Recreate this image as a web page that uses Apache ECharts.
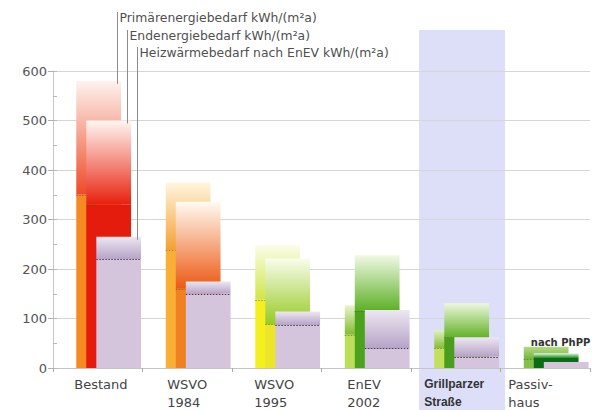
<!DOCTYPE html>
<html>
<head>
<meta charset="utf-8">
<script src="https://cdn.jsdelivr.net/npm/echarts@6/dist/echarts.min.js"></script>
<style>
  html, body { margin: 0; padding: 0; background: #ffffff; }
  #chart { width: 595px; height: 410px; }
</style>
</head>
<body>
<div id="chart"></div>
<script>
// Energy demand per building standard, kWh/(m²a)
const categories = ['Bestand', 'WSVO\n1984', 'WSVO\n1995', 'EnEV\n2002', 'Grillparzer\nStraße', 'Passiv-\nhaus'];
const seriesNames = ['Primärenergiebedarf kWh/(m²a)', 'Endenergiebedarf kWh/(m²a)', 'Heizwärmebedarf nach EnEV kWh/(m²a)'];
const noteText = 'nach PhPP';

// upper end of each range and its lower bound
const primaerTop  = [580, 375, 248, 127, 77, 43];
const primaerBase = [350, 238, 138, 67, 40, 18];
const endTop      = [500, 336, 221, 228, 131, 30];
const endBase     = [330, 160, 88, 115, 62, 20];
const heizTop     = [265, 175, 114, 117, 62, 12];
const heizBase    = [220, 150, 87, 40, 23, 12];

const yMin = 0, yMax = 600, yStep = 100;

// colour sets per standard: [faded top, colour at lower bound, solid fill below]
const primaerColors = [
  ['#fdf3ef', '#ee4a26', '#f58a22'],
  ['#fff6e0', '#f4a030', '#f7b035'],
  ['#fbfde8', '#cfe646', '#f5ef22'],
  ['#e8f4cc', '#82bc2e', '#bcde58'],
  ['#e2f0c4', '#84be34', '#c2e05c'],
  ['#b4da86', '#72b63a', '#82c04a']
];
const endColors = [
  ['#fff7f2', '#e8200e', '#e41c0e'],
  ['#fffbf2', '#ec5812', '#f08020'],
  ['#f9fdec', '#96ca22', '#ebe62a'],
  ['#f1f9e4', '#5cb024', '#4ca21c'],
  ['#eef8de', '#62b226', '#4a9e1c'],
  ['#eef8e6', '#148c1a', '#0a6c14']
];
const heizColors = categories.map(() => ['#ede7f2', '#b6a3c6', '#d5c5dc']);

const FONT = '"DejaVu Sans", sans-serif';
const legendY = [17, 35, 52];

function rangeBars(k, colors) {
  return function (params, api) {
    const i = api.value(0);
    const top = api.value(1);
    const base = api.value(2);
    const band = api.size([1, 0])[0];
    const p0 = api.coord([i, 0]);
    const pTop = api.coord([i, top]);
    const pBase = api.coord([i, base]);
    const w = band * 0.5;
    const step = band * 0.112;
    const x = p0[0] - band * 0.24 + k * step;
    const c = colors[i];
    const children = [
      {
        type: 'rect',
        shape: { x: x, y: pBase[1], width: w, height: p0[1] - pBase[1] },
        style: { fill: c[2] }
      },
      {
        type: 'rect',
        shape: { x: x, y: pTop[1], width: w, height: pBase[1] - pTop[1] },
        style: {
          fill: {
            type: 'linear', x: 0, y: 0, x2: 0, y2: 1,
            colorStops: [{ offset: 0, color: c[0] }, { offset: 1, color: c[1] }]
          }
        }
      }
    ];
    if (base < top) {
      // dotted lower bound: full width on the front bar, a short mark on the others
      const ly = Math.round(pBase[1]) + 0.5;
      const front = k === 2;
      children.push({
        type: 'line',
        shape: { x1: x, y1: ly, x2: front ? x + w : x + step, y2: ly },
        style: {
          stroke: front ? '#4a3a52' : '#5a4a40', lineWidth: 1,
          lineDash: [1.5, 1.5], opacity: front ? 1 : 0.55
        }
      });
    }
    if (i === 0) {
      // leader line and caption for this measure
      const lx = Math.round(x + w - 4) + 0.5;
      children.push({
        type: 'line',
        shape: { x1: lx, y1: legendY[k] - 5, x2: lx, y2: pTop[1] + 3 },
        style: { stroke: '#8c8c8c', lineWidth: 1 }
      });
      children.push({
        type: 'text',
        style: {
          x: lx + 2, y: legendY[k], text: seriesNames[k],
          fill: '#505050', fontSize: 12.4, fontFamily: FONT,
          align: 'left', verticalAlign: 'middle'
        }
      });
    }
    if (k === 1 && i === categories.length - 1) {
      children.push({
        type: 'text',
        style: {
          x: x - 3, y: pTop[1] - 11, text: noteText,
          fill: '#333333', fontSize: 10, fontWeight: 'bold', fontFamily: FONT,
          align: 'left', verticalAlign: 'middle'
        }
      });
    }
    return { type: 'group', children: children };
  };
}

function seriesData(tops, bases) {
  return categories.map((c, i) => [i, tops[i], bases[i]]);
}

// category label widths so the left-aligned lines sit where they belong
const labelWidths = [47, 40, 45, 38, 63, 74];
const rich = {};
labelWidths.forEach((w, i) => {
  rich['c' + i] = {
    width: w, align: 'left', fontSize: 13, fontFamily: FONT,
    lineHeight: 18, color: '#444444'
  };
});
rich.c4 = Object.assign({}, rich.c4, {
  fontFamily: '"Liberation Sans", Arial, sans-serif', fontWeight: 'bold', fontSize: 12, color: '#333333'
});

const chart = echarts.init(document.getElementById('chart'), null, { renderer: 'svg' });

const option = {
  animation: false,
  backgroundColor: '#ffffff',
  grid: { left: 53, right: 5, top: 71, bottom: 42, containLabel: false },
  xAxis: {
    type: 'category',
    data: categories,
    boundaryGap: true,
    axisLine: { show: true, lineStyle: { color: '#c4c4c4' } },
    axisTick: { show: true, length: 4, lineStyle: { color: '#aaaaaa' } },
    splitLine: { show: false },
    axisLabel: {
      interval: 0,
      margin: 7,
      formatter: (v, i) => v.split('\n').map(l => '{c' + i + '|' + l + '}').join('\n'),
      rich: rich
    }
  },
  yAxis: [
    {
      type: 'value',
      min: yMin, max: yMax, interval: yStep,
      axisLine: { show: true, lineStyle: { color: '#c8c8c8' } },
      axisTick: { show: true, length: 5, lineStyle: { color: '#b0b0b0' } },
      splitLine: { show: true, lineStyle: { color: '#d6d6d6' } },
      axisLabel: { color: '#555555', fontSize: 13, fontFamily: FONT, margin: 6 }
    },
    {
      type: 'value',
      min: yMin, max: yMax, interval: yStep / 2,
      position: 'left', offset: 0,
      axisLine: { show: false },
      axisLabel: { show: false },
      splitLine: { show: false },
      axisTick: { show: true, inside: true, length: 4, lineStyle: { color: '#b8b8b8' } }
    }
  ],
  series: [
    {
      name: seriesNames[0], type: 'custom', yAxisIndex: 0,
      renderItem: rangeBars(0, primaerColors),
      encode: { x: 0, y: [1, 2] },
      data: seriesData(primaerTop, primaerBase), z: 2
    },
    {
      name: seriesNames[1], type: 'custom', yAxisIndex: 0,
      renderItem: rangeBars(1, endColors),
      encode: { x: 0, y: [1, 2] },
      data: seriesData(endTop, endBase), z: 3
    },
    {
      name: seriesNames[2], type: 'custom', yAxisIndex: 0,
      renderItem: rangeBars(2, heizColors),
      encode: { x: 0, y: [1, 2] },
      data: seriesData(heizTop, heizBase), z: 4
    }
  ]
};

chart.setOption(option);

// highlight band behind the "Grillparzer Straße" column
const hi = 4;
const cx = chart.convertToPixel({ xAxisIndex: 0 }, hi);
const bw = chart.convertToPixel({ xAxisIndex: 0 }, hi + 1) - cx;
chart.setOption({
  graphic: [{
    type: 'rect', z: -10, silent: true,
    shape: { x: cx - 0.41 * bw, y: 30, width: 0.96 * bw, height: 380 },
    style: { fill: '#dcdff7' }
  }]
});
</script>
</body>
</html>
